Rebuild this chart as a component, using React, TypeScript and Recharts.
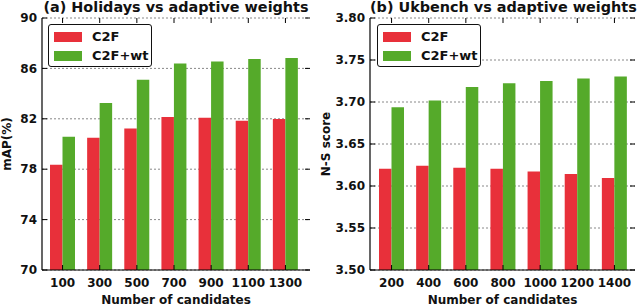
import React from 'react';
import { BarChart, Bar, XAxis, YAxis, CartesianGrid, Label } from 'recharts';

const categoriesA = ['100', '300', '500', '700', '900', '1100', '1300'];
const c2fA = [78.35, 80.5, 81.24, 82.14, 82.09, 81.85, 81.98];
const c2fwtA = [80.58, 83.26, 85.1, 86.38, 86.54, 86.75, 86.83];
const yTicksA = [70, 74, 78, 82, 86, 90];

const categoriesB = ['200', '400', '600', '800', '1000', '1200', '1400'];
const c2fB = [3.6205, 3.6241, 3.6217, 3.6205, 3.6174, 3.6142, 3.6094];
const c2fwtB = [3.6937, 3.7017, 3.718, 3.7223, 3.7251, 3.7279, 3.7303];
const yTicksB = [3.5, 3.55, 3.6, 3.65, 3.7, 3.75, 3.8];

const seriesNames = ['C2F', 'C2F+wt'];
const colors = ['#e8303a', '#55aa2a'];

const FONT = '"DejaVu Sans", sans-serif';

type PanelProps = {
  title: string;
  yLabel: string;
  yLabelOffset: number;
  categories: string[];
  a: number[];
  b: number[];
  yTicks: number[];
  decimals: number;
  yAxisWidth: number;
  marginRight: number;
  padLeft: number;
  padRight: number;
  legendLeft: number;
};

function Panel(p: PanelProps) {
  const W = 320;
  const H = 306;
  const top = 18;
  const bottom = 270;
  const left = p.yAxisWidth;
  const right = W - p.marginRight;
  const data = p.categories.map((c, i) => ({ cat: c, s1: p.a[i], s2: p.b[i] }));

  const XTick = (props: any) => {
    const { x, y, payload } = props;
    return (
      <g>
        <line x1={x} x2={x} y1={bottom} y2={bottom - 5} stroke="#000" strokeWidth={1} />
        <line x1={x} x2={x} y1={top} y2={top + 5} stroke="#000" strokeWidth={1} />
        <text x={x} y={y} dy="0.71em" textAnchor="middle" fontFamily={FONT} fontWeight="bold" fontSize={12} fill="#111">
          {payload.value}
        </text>
      </g>
    );
  };
  const YTick = (props: any) => {
    const { x, y, payload } = props;
    return (
      <g>
        <line x1={left} x2={left + 5} y1={y} y2={y} stroke="#000" strokeWidth={1} />
        <line x1={right} x2={right - 5} y1={y} y2={y} stroke="#000" strokeWidth={1} />
        <text x={x} y={y} dy="0.355em" textAnchor="end" fontFamily={FONT} fontWeight="bold" fontSize={12} fill="#111">
          {Number(payload.value).toFixed(p.decimals)}
        </text>
      </g>
    );
  };

  return (
    <div style={{ position: 'relative', width: W, height: H }}>
      <BarChart
        width={W}
        height={H}
        data={data}
        margin={{ top, right: p.marginRight, left: 0, bottom: 0 }}
        barGap={0}
        barSize={12.5}
      >
        <CartesianGrid vertical={false} stroke="#888" strokeDasharray="2 2" strokeWidth={1} />
        <XAxis
          dataKey="cat"
          height={36}
          padding={{ left: p.padLeft, right: p.padRight }}
          tickSize={0}
          tickMargin={8}
          tick={XTick}
          axisLine={{ stroke: '#000', strokeWidth: 1.2 }}
          tickLine={false}
          interval={0}
        >
          <Label
            value="Number of candidates"
            position="insideBottom"
            offset={2}
            style={{ fontFamily: FONT, fontWeight: 'bold', fontSize: 12, fill: '#111' }}
          />
        </XAxis>
        <XAxis
          xAxisId="top"
          dataKey="cat"
          orientation="top"
          height={0}
          tick={false}
          tickLine={false}
          axisLine={{ stroke: '#000', strokeWidth: 1.2 }}
        />
        <YAxis
          width={p.yAxisWidth}
          domain={[p.yTicks[0], p.yTicks[p.yTicks.length - 1]]}
          ticks={p.yTicks}
          allowDataOverflow
          tickSize={0}
          tickMargin={5}
          tick={YTick}
          tickLine={false}
          axisLine={{ stroke: '#000', strokeWidth: 1.2 }}
        >
          <Label
            value={p.yLabel}
            angle={-90}
            position="insideLeft"
            offset={p.yLabelOffset}
            style={{ fontFamily: FONT, fontWeight: 'bold', fontSize: 12, fill: '#111', textAnchor: 'middle' }}
          />
        </YAxis>
        <YAxis
          yAxisId="right"
          orientation="right"
          width={0}
          domain={[p.yTicks[0], p.yTicks[p.yTicks.length - 1]]}
          tick={false}
          tickLine={false}
          axisLine={{ stroke: '#000', strokeWidth: 1.2 }}
        />
        <Bar dataKey="s1" name={seriesNames[0]} fill={colors[0]} isAnimationActive={false} />
        <Bar dataKey="s2" name={seriesNames[1]} fill={colors[1]} isAnimationActive={false} />
      </BarChart>
      <div
        style={{
          position: 'absolute',
          left: left,
          width: right - left,
          top: -1,
          textAlign: 'center',
          fontFamily: FONT,
          fontWeight: 'bold',
          fontSize: 14.4,
          color: '#111',
          whiteSpace: 'nowrap',
          lineHeight: '17px',
        }}
      >
        {p.title}
      </div>
      <div
        style={{
          position: 'absolute',
          left: p.legendLeft,
          top: 24,
          width: 104,
          height: 43,
          border: '1.5px solid #111',
          borderRadius: 3,
          background: '#fff',
          boxSizing: 'border-box',
          fontFamily: FONT,
          fontWeight: 'bold',
          fontSize: 13,
          color: '#111',
        }}
      >
        {seriesNames.map((n, i) => (
          <div
            key={n}
            style={{ position: 'absolute', left: 5, top: 6 + i * 19, height: 12, display: 'flex', alignItems: 'center' }}
          >
            <div style={{ width: 28, height: 10, background: colors[i] }} />
            <span style={{ marginLeft: 10, lineHeight: '12px' }}>{n}</span>
          </div>
        ))}
      </div>
    </div>
  );
}

export default function App() {
  return (
    <div style={{ position: 'absolute', left: 0, top: 0, width: 640, height: 306, background: '#fff', display: 'flex' }}>
      <Panel
        title="(a) Holidays vs adaptive weights"
        yLabel="mAP(%)"
        yLabelOffset={7}
        categories={categoriesA}
        a={c2fA}
        b={c2fwtA}
        yTicks={yTicksA}
        decimals={0}
        yAxisWidth={42}
        marginRight={10}
        padLeft={2}
        padRight={6}
        legendLeft={48}
      />
      <Panel
        title="(b) Ukbench vs adaptive weights"
        yLabel="N-S score"
        yLabelOffset={6}
        categories={categoriesB}
        a={c2fB}
        b={c2fwtB}
        yTicks={yTicksB}
        decimals={2}
        yAxisWidth={50}
        marginRight={5}
        padLeft={3}
        padRight={2}
        legendLeft={57}
      />
    </div>
  );
}
